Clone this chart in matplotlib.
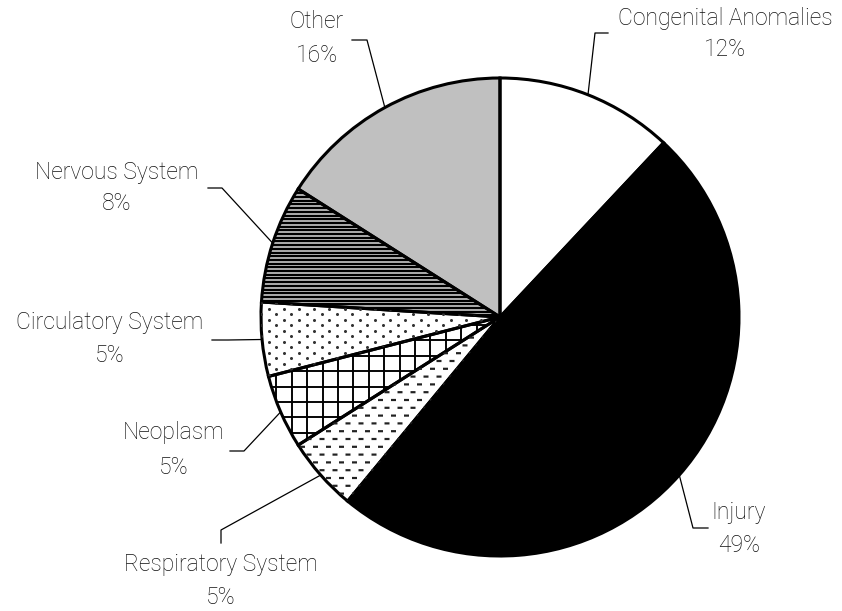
import numpy as np
import matplotlib
matplotlib.use("Agg")
import matplotlib.pyplot as plt

W, H = 842, 611

categories = ["Congenital Anomalies", "Injury", "Respiratory System", "Neoplasm",
              "Circulatory System", "Nervous System", "Other"]
values = [12, 49, 5, 5, 5, 8, 16]
pct_labels = ["12%", "49%", "5%", "5%", "5%", "8%", "16%"]
face_colors = ["white", "black", "white", "white", "white", "white", "#c0c0c0"]
patterns = [None, None, "dash", "grid", "dots", "hlines", None]

# layout (pixel coords, y from top)
cx, cy, R = 500, 317, 239
text_pos = [(725, 18, 50), (739, 512, 545), (221, 565, 597), (174, 433, 467),
            (110, 323, 355), (117, 173, 203), (317, 22, 55)]
leader_pts = [((608, 33), (595, 33)), ((708, 528), (693, 528)), ((221, 543), (221, 530)),
              ((230, 451), (244, 451)), ((212, 340), (228, 340)), ((208, 188), (222, 188)),
              ((352, 40), (367, 40))]

def Y(y):
    return H - y

fig = plt.figure(figsize=(W / 100, H / 100), dpi=100)
ax = fig.add_axes([0, 0, 1, 1])

wedges, _ = ax.pie(values, colors=face_colors, startangle=90, counterclock=False,
                   center=(cx, Y(cy)), radius=R,
                   wedgeprops=dict(edgecolor="none", linewidth=0))

lw_px = 0.72  # points per pixel
for w, pat in zip(wedges, patterns):
    segs = []
    if pat == "hlines":
        for y in np.arange(Y(cy) - R, Y(cy) + R, 3.7):
            l, = ax.plot([cx - R, cx + R], [y, y], color="black", lw=2.0 * lw_px,
                         solid_capstyle="butt")
            segs.append(l)
        w.set_facecolor("#a8a8a8")
    elif pat == "grid":
        for k in np.arange(-R, R, 15.4):
            l1, = ax.plot([cx + k, cx + k], [Y(cy) - R, Y(cy) + R], color="black", lw=1.9 * lw_px)
            l2, = ax.plot([cx - R, cx + R], [Y(cy) + k, Y(cy) + k], color="black", lw=1.9 * lw_px)
            segs += [l1, l2]
    elif pat == "dots":
        xs, ys = [], []
        for i, x in enumerate(np.arange(cx - R, cx + R, 7.6)):
            off = 5.5 if i % 2 else 0
            for y in np.arange(Y(cy) - R + off, Y(cy) + R, 11):
                xs.append(x)
                ys.append(y)
        l, = ax.plot(xs, ys, ls="none", marker="o", ms=2.2, color="#333333", mec="none")
        segs.append(l)
    elif pat == "dash":
        xs, ys = [], []
        for j, y in enumerate(np.arange(Y(cy) - R, Y(cy) + R, 7.8)):
            off = 6.5 if j % 2 else 0
            for x in np.arange(cx - R + off, cx + R, 13):
                xs += [x, x + 5, np.nan]
                ys += [y, y, np.nan]
        l, = ax.plot(xs, ys, color="#222222", lw=2.2 * lw_px, solid_capstyle="butt")
        segs.append(l)
    for s in segs:
        s.set_clip_path(w)

# outlines on top
outl, _ = ax.pie(values, colors=["none"] * len(values), startangle=90, counterclock=False,
                 center=(cx, Y(cy)), radius=R,
                 wedgeprops=dict(edgecolor="black", linewidth=2.2, fill=False))

# labels and leaders
total = sum(values)
cum = 0
font = dict(family=["Roboto", "DejaVu Sans"], fontweight="light", fontsize=16.5, color="#111111")
for name, v, p, (tx, ty1, ty2), (pend, pelb) in zip(categories, values, pct_labels,
                                                     text_pos, leader_pts):
    mid = cum + v / 2
    cum += v
    ang = np.deg2rad(90 - 360 * mid / total)
    axp, ayp = cx + R * np.cos(ang), Y(cy) + R * np.sin(ang)
    ax.plot([pend[0], pelb[0], axp], [Y(pend[1]), Y(pelb[1]), ayp], color="black", lw=0.9)
    ax.text(tx, Y(ty1), name, ha="center", va="center", **font)
    ax.text(tx, Y(ty2), p, ha="center", va="center", **font)

ax.set_xlim(0, W)
ax.set_ylim(0, H)
ax.set_aspect("equal")
ax.axis("off")
fig.savefig("out.png", dpi=100, facecolor="white")
